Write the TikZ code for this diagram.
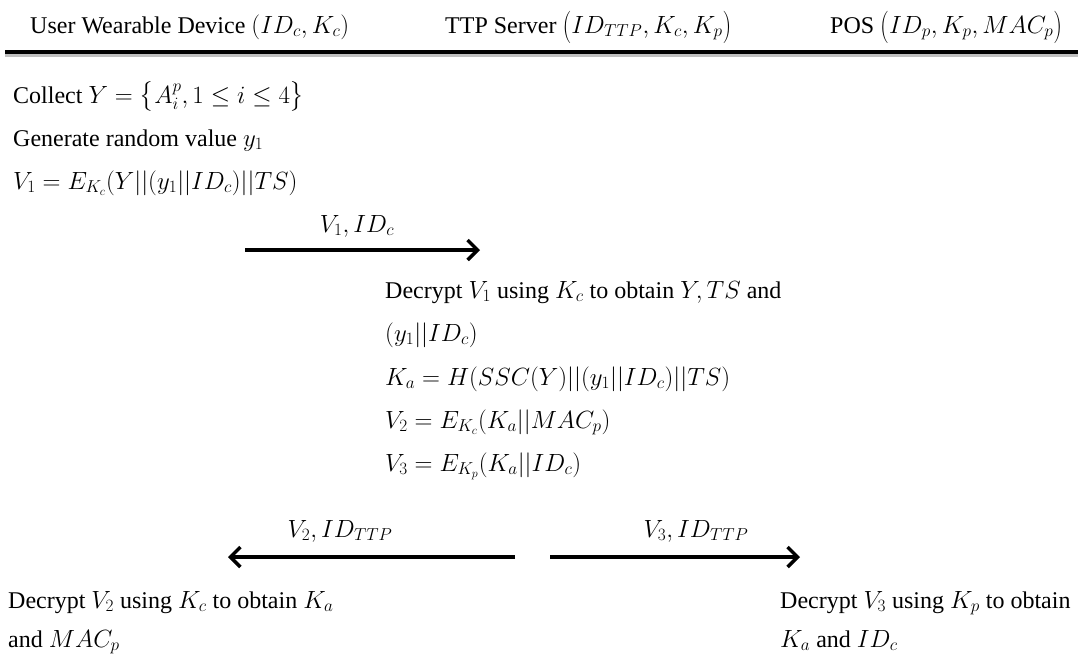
\documentclass[tikz,border=0pt]{standalone}
\usepackage{amsmath}
\usepackage{graphicx}
\usepackage{fontspec}
\setmainfont{Liberation Serif}
\usetikzlibrary{arrows.meta}

% stretched parentheses for the party headings
\newcommand{\hdopen}{\mathopen{\raisebox{-0.12em}{\scalebox{1}[1.3]{$($}}}}
\newcommand{\hdclose}{\mathclose{\raisebox{-0.12em}{\scalebox{1}[1.3]{$)$}}}}

\tikzset{
  head/.style={anchor=base west, inner sep=0pt, font=\fontsize{24}{28}\selectfont},
  txt/.style={anchor=base west, inner sep=0pt, font=\fontsize{24}{28}\selectfont},
  lbl/.style={anchor=base, inner sep=0pt, font=\fontsize{24}{28}\selectfont},
  msg/.style={line width=3.5pt, -{Straight Barb[length=10pt,width=20pt,line width=3.5pt]}},
  rule/.style={line width=4pt},
  ruleshadow/.style={line width=2.5pt, black!25}
}

\begin{document}
\begin{tikzpicture}[x=1pt, y=-1pt]
  \useasboundingbox (0,0) rectangle (1078,657);

  % party headings
  \node[head] (dev) at (30,33) {User Wearable Device $(ID_c, K_c)$};
  \node[head] (ttp) at (445,33) {TTP Server $\hdopen ID_{TTP}, K_c, K_p\hdclose$};
  \node[head] (pos) at (830,33) {POS $\hdopen ID_p, K_p, MAC_p\hdclose$};

  % heading rule with soft shadow below it
  \coordinate (ruleL) at (5,52);
  \coordinate (ruleR) at (1078,52);
  \draw[ruleshadow] ([yshift=-3.5pt]ruleL) -- ([yshift=-3.5pt]ruleR);
  \draw[rule] (ruleL) -- (ruleR);

  % wearable device: step 1
  \node[txt] (s1) at (13,103) {Collect $Y = \bigl\{A_i^p, 1 \le i \le 4\bigr\}$};
  \node[txt] (s2) at (13,146) {Generate random value $y_1$};
  \node[txt] (s3) at (13,189) {$V_1 = E_{K_c}(Y||(y_1||ID_c)||TS)$};

  % message 1
  \coordinate (m1a) at (245,250);
  \coordinate (m1b) at (480,250);
  \draw[msg] (m1a) -- (m1b);
  \node[lbl] (m1l) at (357,232) {$V_1, ID_c$};

  % TTP server processing
  \node[txt] (t1) at (385,298) {Decrypt $V_1$ using $K_c$ to obtain $Y, TS$ and};
  \node[txt] (t2) at (385,341) {$(y_1||ID_c)$};
  \node[txt] (t3) at (385,385) {$K_a = H(SSC(Y)||(y_1||ID_c)||TS)$};
  \node[txt] (t4) at (385,428) {$V_2 = E_{K_c}(K_a||MAC_p)$};
  \node[txt] (t5) at (385,471) {$V_3 = E_{K_p}(K_a||ID_c)$};

  % messages 2 and 3
  \coordinate (m2a) at (515,557);
  \coordinate (m2b) at (228,557);
  \draw[msg] (m2a) -- (m2b);
  \node[lbl] (m2l) at (340,537) {$V_2, ID_{TTP}$};

  \coordinate (m3a) at (550,557);
  \coordinate (m3b) at (800,557);
  \draw[msg] (m3a) -- (m3b);
  \node[lbl] (m3l) at (696,537) {$V_3, ID_{TTP}$};

  % final decryptions
  \node[txt] (d1) at (8,608) {Decrypt $V_2$ using $K_c$ to obtain $K_a$};
  \node[txt] (d2) at (8,647) {and $MAC_p$};
  \node[txt] (p1) at (780,608) {Decrypt $V_3$ using $K_p$ to obtain};
  \node[txt] (p2) at (780,647) {$K_a$ and $ID_c$};
\end{tikzpicture}
\end{document}
